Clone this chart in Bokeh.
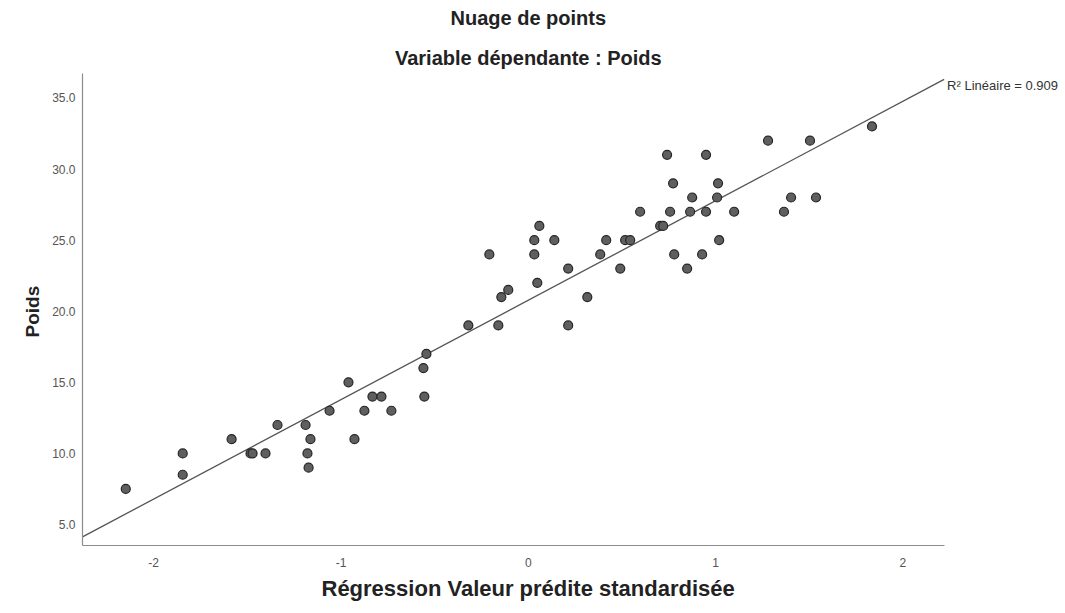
import numpy as np
from bokeh.plotting import figure
from bokeh.models import Title, Label, FixedTicker, ColumnDataSource
from bokeh.embed import file_html
from bokeh.resources import INLINE

# Standardized predicted values (x) and observed weight (y)
pred_std = [
    -2.149, -1.845, -1.845, -1.584, -1.483, -1.472, -1.403, -1.339, -1.189, -1.163,
    -1.179, -1.173, -1.061, -0.960, -0.928, -0.875, -0.832, -0.784, -0.731, -0.560,
    -0.555, -0.544,
    0.059, 0.032, 0.139, -0.208, 0.032, 0.213, 0.048, -0.107, -0.144, 0.315,
    -0.320, -0.160, 0.213, 0.416, 0.384, 0.491, 0.517, 0.544, 0.597, 0.757,
    0.704, 0.720, 0.864, 0.949, 1.099, 0.779, 0.928, 0.848, 1.019, 1.835,
    1.280, 1.504, 0.741, 0.949, 0.773, 1.013, 0.875, 1.008, 1.403, 1.536,
    1.365,
]
poids = [
    7.5, 10, 8.5, 11, 10, 10, 10, 12, 12, 11,
    10, 9, 13, 15, 11, 13, 14, 14, 13, 16,
    14, 17,
    26, 25, 25, 24, 24, 23, 22, 21.5, 21, 21,
    19, 19, 19, 25, 24, 23, 25, 25, 27, 27,
    26, 26, 27, 27, 27, 24, 24, 23, 25, 33,
    32, 32, 31, 31, 29, 29, 28, 28, 28, 28,
    27,
]
x_ticks = [-2, -1, 0, 1, 2]
x_tick_labels = ["-2", "-1", "0", "1", "2"]
y_ticks = [5, 10, 15, 20, 25, 30, 35]
r2_text = "R² Linéaire = 0.909"
title_1 = "Nuage de points"
title_2 = "Variable dépendante : Poids"
x_title = "Régression Valeur prédite standardisée"
y_title = "Poids"

FONT = "Liberation Sans"
X_LO, X_HI = -2.38, 2.22        # extent of the drawn x axis
Y_LO, Y_HI = 3.523, 36.72       # extent of the drawn y axis
Y_TOP = 41.858                  # range top (canvas top), room for titles

p = figure(width=1065, height=613, output_backend="svg", toolbar_location=None,
           x_range=(X_LO, 2.868), y_range=(Y_LO, Y_TOP),
           min_border_left=82, min_border_right=0, min_border_top=0,
           min_border_bottom=68)
p.outline_line_color = None
p.xgrid.visible = False
p.ygrid.visible = False
p.background_fill_color = "white"
p.border_fill_color = "white"

# Chart titles, centred over x = 0 near the top of the canvas
for txt, dy in ((title_1, -17), (title_2, -57)):
    p.add_layout(Label(x=0, y=Y_TOP, y_offset=dy, text=txt,
                       text_align="center", text_baseline="middle",
                       text_font=FONT, text_font_size="20px",
                       text_font_style="bold", text_color="#222222"))

for ax in (p.xaxis[0], p.yaxis[0]):
    ax.axis_line_color = "#8c8c8c"
    ax.axis_line_width = 1.2
    ax.major_tick_line_color = None
    ax.minor_tick_line_color = None
    ax.major_tick_out = 0
    ax.major_tick_in = 0
    ax.minor_tick_out = 0
    ax.minor_tick_in = 0
    ax.major_label_text_font = FONT
    ax.major_label_text_font_size = "12px"
    ax.major_label_text_color = "#555555"

p.xaxis.bounds = (X_LO, X_HI)
p.yaxis.bounds = (Y_LO, Y_HI)
p.xaxis.ticker = FixedTicker(ticks=x_ticks)
p.yaxis.ticker = FixedTicker(ticks=y_ticks)
p.xaxis.major_label_overrides = dict(zip(x_ticks, x_tick_labels))
p.yaxis.major_label_overrides = {t: f"{t:.1f}" for t in y_ticks}
p.xaxis.major_label_standoff = 12
p.yaxis.major_label_standoff = 7

# Axis titles
p.add_layout(Title(text=x_title, align="left", offset=239, vertical_align="top",
                   text_font=FONT, text_font_size="22px", text_font_style="bold",
                   text_color="#222222", standoff=13), "below")
p.add_layout(Title(text=y_title, align="left", offset=208,
                   text_font=FONT, text_font_size="19px", text_font_style="bold",
                   text_color="#222222", standoff=14), "left")

# Fit line through the data, drawn across the axis extent
slope, intercept = np.polyfit(pred_std, poids, 1)
fx = np.array([X_LO, X_HI])
p.line(fx, intercept + slope * fx, line_color="#555555", line_width=1.3)

src = ColumnDataSource(dict(x=pred_std, y=poids))
p.scatter("x", "y", source=src, size=9, fill_color="#5f5f5f",
          line_color="#262626", line_width=1.2)

p.add_layout(Label(x=X_HI, y=35.9, text=r2_text, x_offset=3,
                   text_font=FONT, text_font_size="13px", text_color="#333333",
                   text_baseline="middle"))

open("out.html", "w").write(file_html(p, INLINE))
